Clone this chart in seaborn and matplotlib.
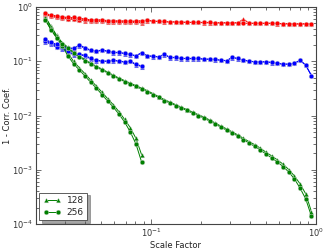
import numpy as np
import pandas as pd
import matplotlib
matplotlib.use("Agg")
import matplotlib.pyplot as plt
import seaborn as sns

# ---- data ----
scale_long = [0.02284, 0.02472, 0.02676, 0.02896, 0.03134, 0.03392, 0.03671, 0.03973,
              0.04300, 0.04654, 0.05037, 0.05451, 0.05900, 0.06385, 0.06911, 0.07479,
              0.08095, 0.08761, 0.09484, 0.10264, 0.11109, 0.12023, 0.13013, 0.14083,
              0.15243, 0.16497, 0.17855, 0.19324, 0.20915, 0.22636, 0.24500, 0.26516,
              0.28699, 0.31061, 0.33618, 0.36384, 0.39379, 0.42620, 0.46132, 0.49926,
              0.54038, 0.58479, 0.63299, 0.68503, 0.74147, 0.80245, 0.86854, 0.94000]
scale_short = scale_long[:18]

red_128_long = [0.74, 0.70, 0.67, 0.65, 0.63, 0.62, 0.61, 0.59, 0.58, 0.57,
                0.57, 0.56, 0.55, 0.55, 0.55, 0.54, 0.54, 0.55, 0.56, 0.55,
                0.54, 0.53, 0.53, 0.53, 0.52, 0.52, 0.52, 0.52, 0.51, 0.51,
                0.51, 0.51, 0.51, 0.51, 0.51, 0.60, 0.50, 0.50, 0.50, 0.50,
                0.50, 0.49, 0.49, 0.49, 0.49, 0.48, 0.49, 0.49]
red_256_long = [0.76, 0.71, 0.69, 0.66, 0.64, 0.64, 0.62, 0.60, 0.58, 0.58,
                0.58, 0.56, 0.56, 0.55, 0.55, 0.55, 0.55, 0.56, 0.57, 0.55,
                0.54, 0.54, 0.53, 0.53, 0.53, 0.52, 0.52, 0.52, 0.52, 0.52,
                0.51, 0.51, 0.51, 0.51, 0.51, 0.50, 0.50, 0.50, 0.50, 0.50,
                0.50, 0.50, 0.49, 0.49, 0.49, 0.49, 0.49, 0.49]
red_128_short = [0.72, 0.67, 0.64, 0.62, 0.60, 0.59, 0.58, 0.56, 0.55, 0.55,
                 0.54, 0.53, 0.53, 0.53, 0.52, 0.52, 0.52, 0.51]
red_256_short = [0.73, 0.68, 0.65, 0.63, 0.61, 0.60, 0.58, 0.57, 0.56, 0.55,
                 0.55, 0.54, 0.54, 0.53, 0.53, 0.53, 0.52, 0.52]

blue_128_long = [0.245, 0.215, 0.198, 0.19, 0.175, 0.17, 0.195, 0.172, 0.158, 0.152,
                 0.158, 0.152, 0.143, 0.144, 0.138, 0.132, 0.125, 0.142, 0.125, 0.122,
                 0.12, 0.133, 0.117, 0.116, 0.112, 0.112, 0.111, 0.111, 0.109, 0.108,
                 0.107, 0.104, 0.102, 0.116, 0.112, 0.104, 0.1, 0.097, 0.097, 0.097,
                 0.094, 0.091, 0.088, 0.088, 0.091, 0.104, 0.084, 0.055]
blue_256_long = [0.254, 0.223, 0.205, 0.186, 0.178, 0.173, 0.200, 0.178, 0.161, 0.155,
                 0.161, 0.155, 0.146, 0.146, 0.140, 0.134, 0.127, 0.144, 0.127, 0.124,
                 0.121, 0.135, 0.118, 0.118, 0.113, 0.113, 0.113, 0.113, 0.110, 0.110,
                 0.108, 0.105, 0.103, 0.118, 0.113, 0.105, 0.101, 0.098, 0.098, 0.098,
                 0.0955, 0.0916, 0.089, 0.089, 0.092, 0.105, 0.085, 0.054]
blue_128_short = [0.228, 0.205, 0.18, 0.168, 0.15, 0.13, 0.13, 0.126, 0.11, 0.103,
                  0.1, 0.099, 0.103, 0.1, 0.096, 0.099, 0.086, 0.08]
blue_256_short = [0.236, 0.214, 0.186, 0.173, 0.155, 0.134, 0.134, 0.130, 0.113, 0.105,
                  0.101, 0.101, 0.105, 0.101, 0.098, 0.101, 0.088, 0.082]

green_128_long = [0.65, 0.42, 0.29, 0.22, 0.18, 0.148, 0.125, 0.107, 0.092, 0.081,
                  0.072, 0.063, 0.0555, 0.049, 0.044, 0.0395, 0.0356, 0.032, 0.0288, 0.0254,
                  0.0224, 0.0197, 0.0177, 0.0159, 0.0143, 0.0129, 0.0116, 0.0104, 0.0094, 0.0083,
                  0.0073, 0.0064, 0.0057, 0.0050, 0.0044, 0.0038, 0.0033, 0.0029, 0.0025, 0.0021,
                  0.0018, 0.00152, 0.00127, 0.00101, 0.00077, 0.00055, 0.00036, 0.00017]
green_256_long = [0.576, 0.377, 0.268, 0.208, 0.172, 0.142, 0.120, 0.103, 0.089, 0.078,
                  0.069, 0.061, 0.0535, 0.047, 0.0423, 0.038, 0.0343, 0.0308, 0.0277, 0.0244,
                  0.0215, 0.0189, 0.0170, 0.0153, 0.0137, 0.0124, 0.0111, 0.0100, 0.0090, 0.0079,
                  0.0070, 0.0061, 0.0054, 0.00475, 0.0042, 0.0036, 0.0031, 0.0027, 0.0023, 0.00195,
                  0.00165, 0.00139, 0.00115, 0.00091, 0.00068, 0.00046, 0.00029, 0.00014]
green_128_short = [0.65, 0.44, 0.30, 0.21, 0.14, 0.099, 0.076, 0.059, 0.045, 0.035,
                   0.027, 0.0205, 0.0158, 0.0118, 0.0085, 0.0060, 0.0038, 0.0019]
green_256_short = [0.576, 0.39, 0.27, 0.19, 0.125, 0.089, 0.069, 0.0535, 0.041, 0.032,
                   0.0244, 0.0185, 0.0143, 0.0106, 0.0076, 0.0050, 0.0030, 0.0014]

sizes = ["128", "256"]
size_markers = {"128": "^", "256": "o"}
colors = {"red": "#ff0000", "blue": "#0000ff", "green": "#008000"}

series = {
    ("red", "128", "long"): red_128_long, ("red", "128", "short"): red_128_short,
    ("red", "256", "long"): red_256_long, ("red", "256", "short"): red_256_short,
    ("blue", "128", "long"): blue_128_long, ("blue", "128", "short"): blue_128_short,
    ("blue", "256", "long"): blue_256_long, ("blue", "256", "short"): blue_256_short,
    ("green", "128", "long"): green_128_long, ("green", "128", "short"): green_128_short,
    ("green", "256", "long"): green_256_long, ("green", "256", "short"): green_256_short,
}

# ---- plot ----
sns.set_style("ticks")
plt.rcParams["font.family"] = ["DejaVu Sans"]

fig = plt.figure(figsize=(3.29, 2.49), dpi=100)
ax = fig.add_axes([0.109, 0.100, 0.851, 0.872])

legend_handles = {}
for size in sizes:
    for cname in ["red", "blue", "green"]:
        for kind in ["short", "long"]:
            yv = series[(cname, size, kind)]
            xv = scale_long if kind == "long" else scale_short
            df = pd.DataFrame({"x": xv[:len(yv)], "y": yv})
            sns.lineplot(data=df, x="x", y="y", ax=ax, color=colors[cname],
                         marker=size_markers[size], markersize=3.4,
                         markeredgewidth=0.3, markeredgecolor="#dddddd",
                         linewidth=0.7, estimator=None, sort=False)
            if cname == "green" and kind == "long":
                legend_handles[size] = ax.lines[-1]

ax.set_xscale("log")
ax.set_yscale("log")
ax.set_xlim(0.02, 1.0)
ax.set_ylim(1e-4, 1.0)

ax.tick_params(which="both", direction="in", top=True, right=True,
               labelsize=6, colors="#333333", width=0.5, pad=2)
ax.tick_params(which="major", length=3.5)
ax.tick_params(which="minor", length=2)
for sp in ax.spines.values():
    sp.set_color("#444444")
    sp.set_linewidth(0.8)

ax.set_xlabel("Scale Factor", fontsize=6, color="#222222", labelpad=1)
ax.set_ylabel("1 - Corr. Coef.", fontsize=6, color="#222222", labelpad=0)

leg = ax.legend([legend_handles["128"], legend_handles["256"]], ["128", "256"],
                loc="lower left", fontsize=6.5, numpoints=2, frameon=True,
                fancybox=False, shadow=True, handlelength=2.0, borderpad=0.4,
                labelspacing=0.3, handletextpad=0.6, borderaxespad=0.4)
leg.get_frame().set_edgecolor("#444444")
leg.get_frame().set_linewidth(0.6)

fig.savefig("out.png", dpi=100)
